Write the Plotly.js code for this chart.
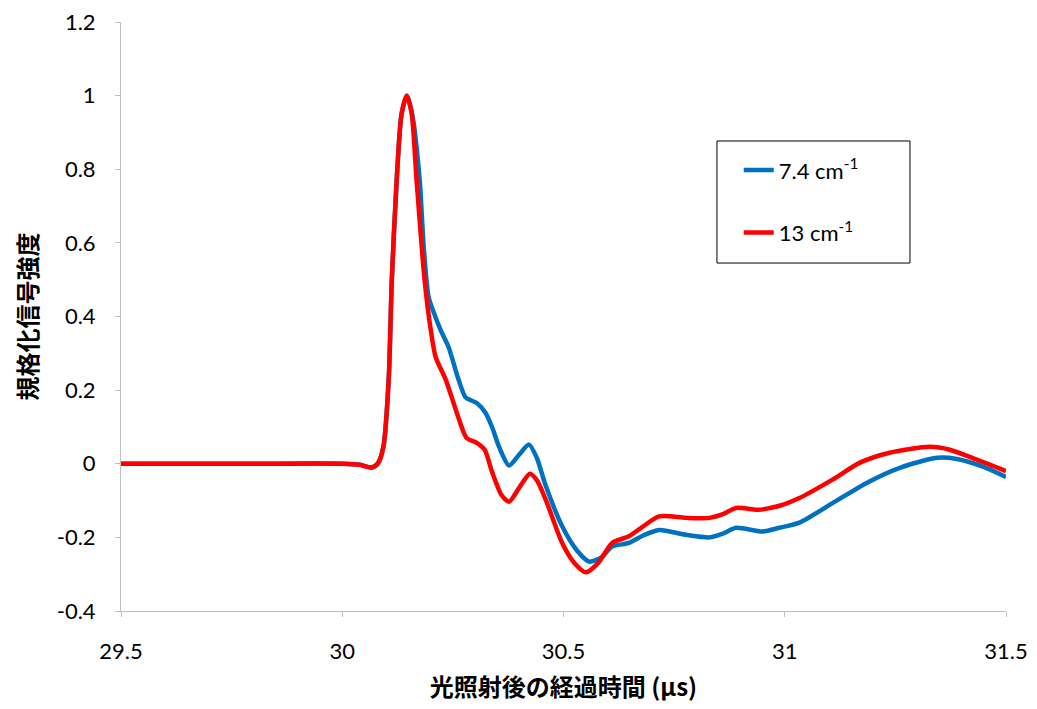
<!DOCTYPE html>
<html>
<head>
<meta charset="utf-8">
<script src="https://cdn.plot.ly/plotly-3.0.1.min.js"></script>
<style>html,body{margin:0;padding:0;background:#fff;}#chart{width:1037px;height:709px;}</style>
</head>
<body>
<div id="chart"></div>
<script>
// Time after light irradiation (µs) and normalized signal intensity
const blueName = "7.4 cm<sup>-1</sup>";
const redName = "13 cm<sup>-1</sup>";

const blueX = [29.5, 29.8, 30.0, 30.04, 30.066, 30.08, 30.093, 30.105, 30.112, 30.123, 30.134, 30.146, 30.158, 30.175, 30.184, 30.195, 30.207, 30.222, 30.24, 30.263, 30.279, 30.304, 30.324, 30.34, 30.354, 30.377, 30.4, 30.422, 30.44, 30.46, 30.497, 30.53, 30.558, 30.585, 30.61, 30.648, 30.68, 30.716, 30.777, 30.83, 30.86, 30.89, 30.95, 30.988, 31.033, 31.108, 31.185, 31.26, 31.344, 31.389, 31.448, 31.5];
const blueY = [0, 0, 0, -0.003, -0.01, 0.0, 0.046, 0.23, 0.5, 0.77, 0.95, 1.0, 0.95, 0.77, 0.59, 0.454, 0.41, 0.364, 0.318, 0.228, 0.18, 0.165, 0.138, 0.095, 0.047, -0.005, 0.025, 0.052, 0.015, -0.06, -0.17, -0.235, -0.266, -0.255, -0.225, -0.215, -0.195, -0.18, -0.193, -0.2, -0.19, -0.174, -0.184, -0.174, -0.16, -0.107, -0.052, -0.011, 0.016, 0.013, -0.008, -0.036];

const redX = [29.5, 29.8, 30.0, 30.04, 30.066, 30.08, 30.093, 30.105, 30.112, 30.123, 30.134, 30.146, 30.157, 30.168, 30.186, 30.2, 30.211, 30.234, 30.259, 30.281, 30.304, 30.322, 30.338, 30.36, 30.377, 30.4, 30.424, 30.44, 30.46, 30.497, 30.525, 30.551, 30.578, 30.61, 30.648, 30.68, 30.716, 30.777, 30.83, 30.86, 30.89, 30.94, 30.988, 31.033, 31.108, 31.17, 31.237, 31.328, 31.373, 31.434, 31.5];
const redY = [0, 0, 0, -0.003, -0.01, 0.0, 0.046, 0.23, 0.5, 0.77, 0.95, 1.0, 0.95, 0.77, 0.5, 0.364, 0.29, 0.228, 0.138, 0.07, 0.057, 0.038, -0.02, -0.085, -0.103, -0.065, -0.027, -0.045, -0.098, -0.215, -0.27, -0.295, -0.27, -0.215, -0.197, -0.17, -0.143, -0.147, -0.147, -0.137, -0.12, -0.125, -0.114, -0.093, -0.043, 0.003, 0.03, 0.046, 0.038, 0.011, -0.02];

const xTicks = [29.5, 30, 30.5, 31, 31.5];
const xTickText = ["29.5", "30", "30.5", "31", "31.5"];
const yTicks = [-0.4, -0.2, 0, 0.2, 0.4, 0.6, 0.8, 1, 1.2];
const yTickText = ["-0.4", "-0.2", "0", "0.2", "0.4", "0.6", "0.8", "1", "1.2"];

const traces = [
  {x: blueX, y: blueY, name: blueName, mode: "lines", legendgroup: "a",
   line: {color: "#0070C0", width: 4.5, shape: "spline", smoothing: 0.7}},
  {x: redX, y: redY, name: redName, mode: "lines", legendgroup: "b",
   line: {color: "#FF0000", width: 4.5, shape: "spline", smoothing: 0.7}}
];

const axisFont = {family: "Lato, 'Open Sans', sans-serif", size: 22, color: "#000"};
const layout = {
  width: 1037, height: 709,
  margin: {l: 121, r: 31, t: 22, b: 98},
  paper_bgcolor: "#fff", plot_bgcolor: "#fff",
  showlegend: true,
  legend: {
    x: 0.698, y: 0.784, xanchor: "left", yanchor: "top",
    bgcolor: "rgba(0,0,0,0)", borderwidth: 0,
    font: {family: "Lato, 'Open Sans', sans-serif", size: 22, color: "#000"},
    tracegroupgap: 31, traceorder: "grouped", itemwidth: 30
  },
  shapes: [
    {type: "rect", xref: "paper", yref: "paper", x0: 0.6734, x1: 0.8915, y0: 0.5908, y1: 0.798,
     line: {color: "#000", width: 1}, fillcolor: "#fff", layer: "below"}
  ],
  xaxis: {
    range: [29.5, 31.5], tickvals: xTicks, ticktext: xTickText,
    showgrid: false, zeroline: false, showline: true, linecolor: "#BFBFBF", linewidth: 1,
    ticks: "outside", ticklen: 5, tickcolor: "#BFBFBF", tickfont: axisFont,
    ticklabelstandoff: 16,
    title: {text: "光照射後の経過時間 (μs)", standoff: 15,
      font: {family: "'Noto Sans CJK JP', sans-serif", size: 24, color: "#000", weight: "bold"}}
  },
  yaxis: {
    range: [-0.4, 1.2], tickvals: yTicks, ticktext: yTickText,
    showgrid: false, zeroline: false, showline: true, linecolor: "#BFBFBF", linewidth: 1,
    ticks: "outside", ticklen: 5, tickcolor: "#BFBFBF", tickfont: axisFont,
    ticklabelstandoff: 15,
    title: {text: "規格化信号強度", standoff: 12,
      font: {family: "'Noto Sans CJK JP', sans-serif", size: 24, color: "#000", weight: "bold"}}
  }
};

Plotly.newPlot("chart", traces, layout, {displayModeBar: false, staticPlot: true});
</script>
</body>
</html>
